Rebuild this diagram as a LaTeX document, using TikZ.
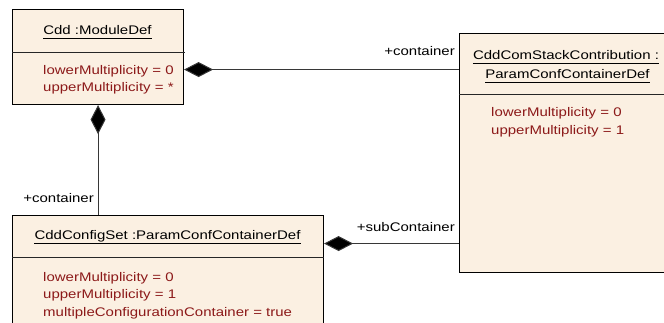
\documentclass[tikz,border=0pt]{standalone}
\usepackage{fontspec}
\setmainfont{Liberation Sans}[FakeStretch=1.2]
\usetikzlibrary{arrows.meta}
\definecolor{boxfill}{RGB}{251,240,226}
\definecolor{attr}{RGB}{140,25,25}
\definecolor{conn}{RGB}{55,55,55}
\begin{document}
\begin{tikzpicture}[x=1pt,y=-1pt,
  umlbox/.style={draw=black, line width=1.1pt, fill=boxfill, inner sep=0pt, anchor=north west},
  sep/.style={draw=black!85, line width=1pt},
  ttl/.style={inner sep=0pt, anchor=base, font=\fontsize{12.5}{15}\selectfont},
  attrtxt/.style={inner sep=0pt, anchor=base west, text=attr, font=\fontsize{12.5}{15}\selectfont},
  role/.style={inner sep=0pt, anchor=base east, font=\fontsize{12.5}{15}\selectfont},
  uline/.style={draw=black, line width=0.9pt},
  comp/.style={draw=conn, line width=1pt, {Diamond[length=29pt,width=15pt,fill=black]}-}
]
\useasboundingbox (0,0) rectangle (664,322);
\clip (0,0) rectangle (664,322);

% boxes
\node[umlbox, minimum width=171pt, minimum height=95pt] (cdd) at (12,9) {};
\node[umlbox, minimum width=214pt, minimum height=239pt] (csc) at (459,33) {};
\node[umlbox, minimum width=311pt, minimum height=130pt] (cfg) at (12,215) {};

% separators
\draw[sep] (cdd.west |- 0,52) -- ++(173,0);
\draw[sep] (csc.west |- 0,94) -- (csc.east |- 0,94);
\draw[sep] (cfg.west |- 0,257) -- (cfg.east |- 0,257);

% titles
\node[ttl] (t1) at (97.5,34) {Cdd :ModuleDef};
\draw[uline] ([yshift=-4.5pt]t1.base west) -- ([yshift=-4.5pt]t1.base east);
\node[ttl] (t3a) at (566,59) {CddComStackContribution :};
\draw[uline] ([yshift=-4.5pt]t3a.base west) -- ([yshift=-4.5pt]t3a.base east);
\node[ttl] (t3b) at (567.5,78) {ParamConfContainerDef};
\draw[uline] ([yshift=-4.5pt]t3b.base west) -- ([yshift=-4.5pt]t3b.base east);
\node[ttl] (t2) at (167.5,239) {CddConfigSet :ParamConfContainerDef};
\draw[uline] ([yshift=-4.5pt]t2.base west) -- ([yshift=-4.5pt]t2.base east);

% attributes
\node[attrtxt] (a11) at (43,74.5) {lowerMultiplicity = 0};
\node[attrtxt] (a12) at (43,91.5) {upperMultiplicity = *};
\node[attrtxt] (a31) at (491,116) {lowerMultiplicity = 0};
\node[attrtxt] (a32) at (491,134) {upperMultiplicity = 1};
\node[attrtxt] (a21) at (43,281) {lowerMultiplicity = 0};
\node[attrtxt] (a22) at (43,298.5) {upperMultiplicity = 1};
\node[attrtxt] (a23) at (43,316) {multipleConfigurationContainer = true};

% connectors
\draw[comp] ([yshift=-12.5pt]cdd.east) -- ([yshift=-12.5pt]cdd.east -| csc.west);
\draw[comp] (cdd.south) -- (cdd.south |- cfg.north);
\draw[comp] ([yshift=37pt]cfg.east) -- ([yshift=37pt]cfg.east -| csc.west);

% role labels
\node[role] (r1) at (455,55) {+container};
\node[role] (r2) at (94,202) {+container};
\node[role] (r3) at (455,231) {+subContainer};
\end{tikzpicture}
\end{document}
